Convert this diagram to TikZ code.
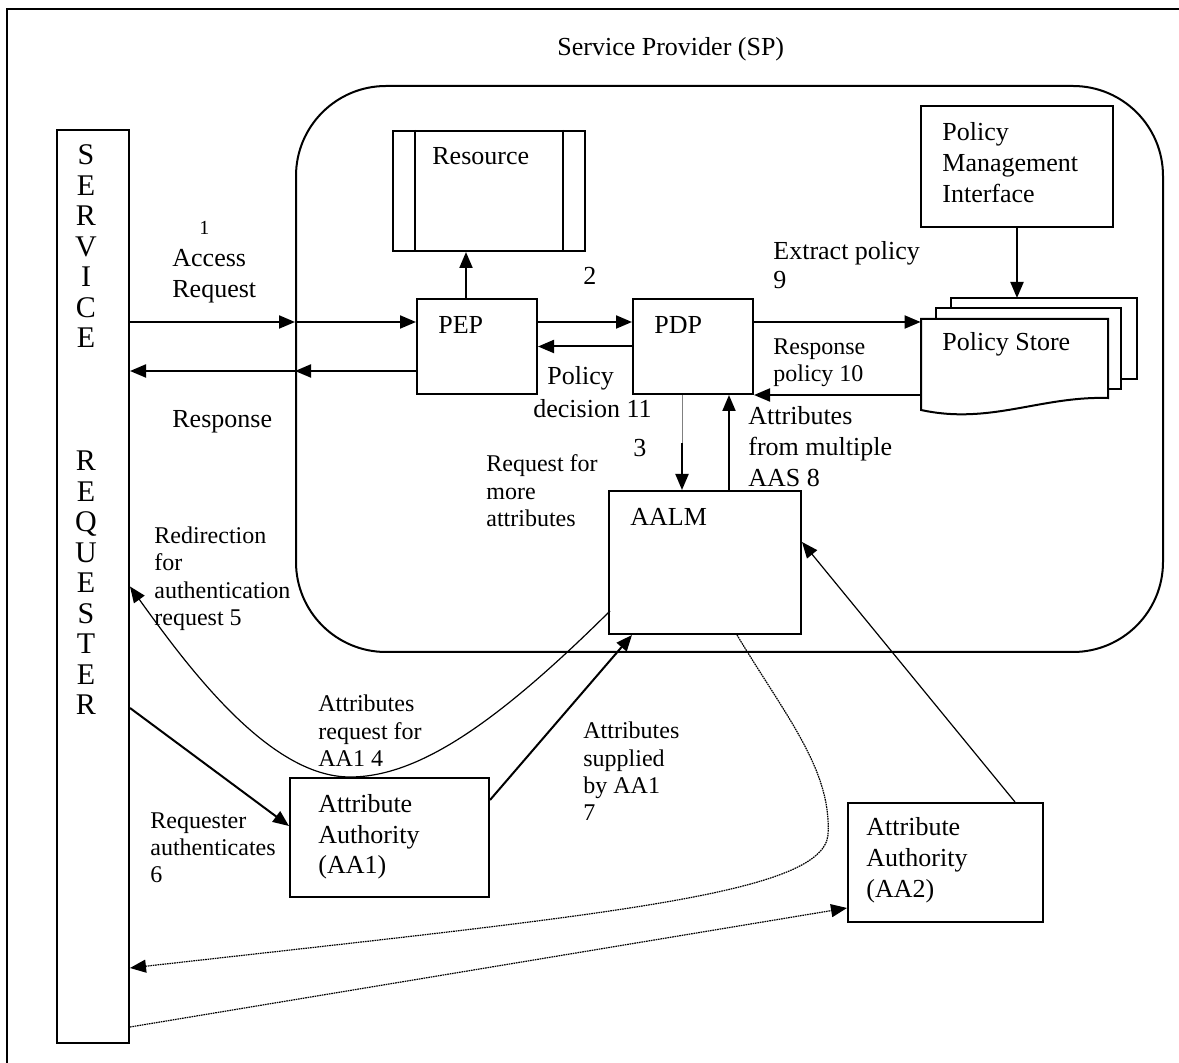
\documentclass[tikz,border=0pt]{standalone}
\usepackage{fontspec}
\setmainfont{Liberation Serif}
\usetikzlibrary{arrows.meta,calc}

\begin{document}
\begin{tikzpicture}[x=0.5pt,y=-0.5pt]

    \tikzset{
      BoxStyle/.style = {rectangle, draw, line width=1pt, inner sep=0pt},
      TextStyle/.style = {inner sep=0pt, align=left, anchor=base west,
                          font=\fontsize{13}{15.5}\selectfont},
      SmallText/.style = {TextStyle, font=\fontsize{12}{13.75}\selectfont},
      LetterStyle/.style = {inner sep=0pt, align=center, anchor=base,
                          font=\fontsize{15}{15.25}\selectfont},
      EdgeStyle/.style = {line width=1pt, -{Triangle[length=8pt,width=6.5pt]}},
      ThinEdge/.style = {line width=0.6pt, -{Triangle[length=8pt,width=6.5pt]}},
      DotEdge/.style = {ThinEdge, dash pattern=on 0.8pt off 0.4pt} }

    \useasboundingbox (0,0) rectangle (1179,1063);
    \draw[line width=1pt] (7,9) rectangle (1200,1100);

    \node[draw, line width=1pt, rounded corners=45pt, minimum width=433.5pt,
          minimum height=283pt] (sp) at (729.5,369) {};
    \node[TextStyle] (sptxt) at (557,56) {Service Provider (SP)};

    \node[BoxStyle, minimum width=36pt, minimum height=456.5pt] (req) at (93,586.5) {};
    \node[LetterStyle] (service) at (86,348) {S\\E\\R\\V\\I\\C\\E};
    \node[LetterStyle] (requester) at (86,715) {R\\E\\Q\\U\\E\\S\\T\\E\\R};

    \node[BoxStyle, minimum width=96pt, minimum height=60pt] (res) at (489,191) {};
    \draw[line width=1pt] ($(res.north west)+(23,0)$) -- ($(res.south west)+(23,0)$);
    \draw[line width=1pt] ($(res.north east)+(-23,0)$) -- ($(res.south east)+(-23,0)$);
    \node[TextStyle] (restxt) at (432,165) {Resource};

    \node[BoxStyle, minimum width=60pt, minimum height=47.5pt] (pep) at (477,346.5) {};
    \node[TextStyle] (peptxt) at (438,334) {PEP};
    \node[BoxStyle, minimum width=60pt, minimum height=47.5pt] (pdp) at (693,346.5) {};
    \node[TextStyle] (pdptxt) at (654,334) {PDP};
    \node[BoxStyle, minimum width=96pt, minimum height=71.5pt] (aalm) at (705,562.5) {};
    \node[TextStyle] (aalmtxt) at (630,526) {AALM};
    \node[BoxStyle, minimum width=96pt, minimum height=60.5pt] (pmi) at (1017,166.5) {};
    \node[TextStyle] (pmitxt) at (942,203) {Policy\\Management\\Interface};
    \node[BoxStyle, minimum width=99.5pt, minimum height=59.5pt] (aa1) at (389.5,837.5) {};
    \node[TextStyle] (aa1txt) at (318,874) {Attribute\\Authority\\(AA1)};
    \node[BoxStyle, minimum width=97.5pt, minimum height=59.5pt] (aa2) at (945.5,862.5) {};
    \node[TextStyle] (aa2txt) at (866,898) {Attribute\\Authority\\(AA2)};

    \draw[line width=1pt, fill=white] (951,298) rectangle (1137,379);
    \draw[line width=1pt, fill=white] (936,308) rectangle (1121,389);
    \draw[line width=1pt, fill=white] (921,319) -- (1108,319) -- (1108,398)
      .. controls (1040,396) and (990,425) .. (921,410) -- cycle;
    \node[minimum width=93.5pt, minimum height=46.5pt, inner sep=0pt] (store) at (1014.5,365.5) {};
    \node[TextStyle] (storetxt) at (942,351) {Policy Store};
    \coordinate (storetop) at (1017,298);

    \coordinate (in1) at ($(pep.west)+(0,-24.5)$);
    \coordinate (out1) at ($(pep.west)+(0,24.5)$);
    \coordinate (ex) at ($(pdp.north east)+(0,24)$);
    \draw[EdgeStyle] (req.east |- in1) -- (sp.west |- in1);
    \draw[EdgeStyle] (sp.west |- in1) -- (in1);
    \draw[EdgeStyle] (out1) -- (sp.west |- out1);
    \draw[EdgeStyle] (sp.west |- out1) -- (req.east |- out1);
    \draw[EdgeStyle] ($(pep.north)+(-11,0)$) -- ($(res.south)+(-23,0)$);
    \draw[EdgeStyle] (pep.east |- in1) -- (pdp.west |- in1);
    \draw[EdgeStyle] (pdp.west) -- (pep.east);
    \draw[EdgeStyle] (ex) -- (store.west |- ex);
    \draw[EdgeStyle] (store.west |- pdp.south) -- (pdp.south east);
    \draw[EdgeStyle] (pmi.south) -- (storetop);
    \draw[line width=0.4pt, gray] ($(pdp.south)+(-11,0)$) -- ($(pdp.south)+(-11,48)$);
    \draw[EdgeStyle] ($(pdp.south)+(-11,48)$) -- ($(aalm.north)+(-23,0)$);
    \draw[EdgeStyle] ($(aalm.north)+(24,0)$) -- ($(pdp.south)+(36,0)$);

    \draw[ThinEdge] ($(aalm.south west)+(2,-24)$) .. controls (500,720) and (420,777) .. (350,777)
      .. controls (270,777) and (190,670) .. (req.east);
    \draw[EdgeStyle] ($(req.east)+(0,121.5)$) -- ($(aa1.west)+(0,-11.5)$);
    \draw[EdgeStyle] ($(aa1.east)+(0,-37.5)$) -- ($(aalm.south)+(-73,0)$);
    \draw[DotEdge] ($(aalm.south)+(32,0)$) .. controls (785,715) and (832,770) .. (828,835)
      .. controls (822,895) and (600,915) .. ($(req.east)+(0,381.5)$);
    \draw[DotEdge] ($(req.east)+(0,440.5)$) -- ($(aa2.west)+(0,45.5)$);
    \draw[ThinEdge] ($(aa2.north)+(69.5,0)$) -- ($(aalm.east)+(0,-20.5)$);

    \node[TextStyle, font=\fontsize{10}{12}\selectfont] (n1) at (199,235) {1};
    \node[TextStyle] (acc) at (172,298) {Access\\Request};
    \node[TextStyle] (resp) at (172,428) {Response};
    \node[TextStyle] (n2) at (583,285) {2};
    \node[TextStyle] (n3) at (633,457) {3};
    \node[TextStyle, font=\fontsize{13}{16.5}\selectfont] (dec) at (533,418) {\hspace*{7pt}Policy\\decision 11};
    \node[TextStyle, font=\fontsize{13}{14.5}\selectfont] (extr) at (773,289) {Extract policy\\9};
    \node[SmallText] (rpol) at (773,382) {Response\\policy 10};
    \node[TextStyle] (attm) at (748,487) {Attributes\\from multiple\\AAS 8};
    \node[SmallText] (more) at (486,527) {Request for\\more\\attributes};
    \node[SmallText] (redir) at (154,626) {Redirection\\for\\authentication\\request 5};
    \node[SmallText] (areq) at (318,767) {Attributes\\request for\\AA1 4};
    \node[SmallText] (asup) at (583,821) {Attributes\\supplied\\by AA1\\7};
    \node[SmallText] (auth) at (150,883) {Requester\\authenticates\\6};

\end{tikzpicture}
\end{document}
